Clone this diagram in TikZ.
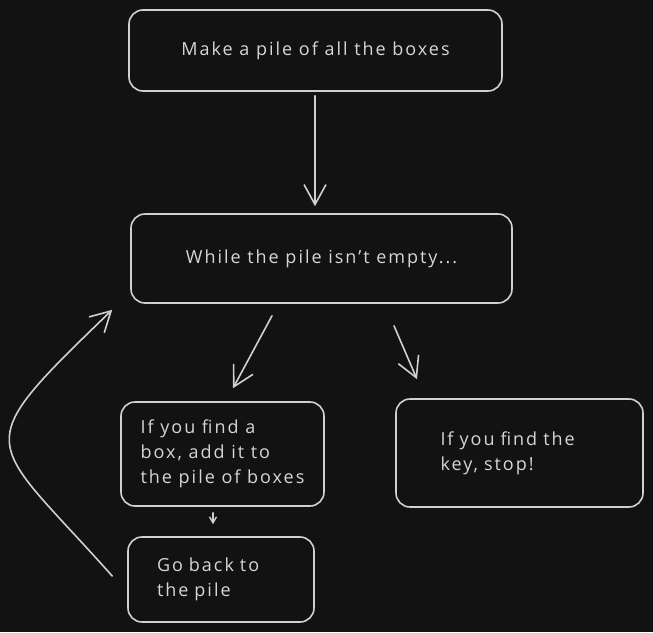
\documentclass[tikz,border=0pt]{standalone}
\usepackage{fontspec}
\setmainfont[LetterSpace=11]{Open Sans}
\usetikzlibrary{arrows.meta}
\definecolor{bggray}{HTML}{121212}
\definecolor{linegray}{HTML}{D0D0D0}
\definecolor{textgray}{HTML}{D6D6D6}

\begin{document}
\begin{tikzpicture}[x=1pt,y=-1pt,
  box/.style={draw=linegray,line width=1.6pt,rounded corners=14pt,text=textgray,
    font=\fontsize{18}{25}\selectfont,inner sep=0pt},
  arrowline/.style={draw=linegray,line width=1.6pt,line cap=round,
    -{Straight Barb[length=20pt,width=22pt,line width=1.6pt]}},
  smallarrow/.style={draw=linegray,line width=1.4pt,line cap=round,
    -{Straight Barb[length=6pt,width=7pt,line width=1.4pt]}}]
\fill[bggray] (0,0) rectangle (653,632);
\useasboundingbox (0,0) rectangle (653,632);
% boxes
\node[box,minimum width=373pt,minimum height=81pt] (pile) at (315.5,50.5) {Make a pile of all the boxes};
\node[box,minimum width=381pt,minimum height=89pt] (loop) at (321.5,258.5) {While the pile isn't empty...};
\node[box,minimum width=203pt,minimum height=104pt,align=left] (addbox) at (222.5,454) {If you find a\\box, add it to\\the pile of boxes};
\node[box,minimum width=247pt,minimum height=108pt,text width=158pt,align=left] (findkey) at (519.5,453) {If you find the\\key, stop!};
\node[box,minimum width=186pt,minimum height=85pt,text width=128pt,align=left] (goback) at (221,579.5) {Go back to\\the pile};
% arrows
\draw[arrowline] ([shift={(-0.5,4)}]pile.south) -- ([shift={(-6.5,-7)}]loop.north);
\draw[arrowline] ([shift={(-49.5,12)}]loop.south) -- ([shift={(10.5,-13)}]addbox.north);
\draw[arrowline] ([shift={(72.5,22)}]loop.south) -- ([shift={(-102.5,-19)}]findkey.north);
\draw[smallarrow] ([shift={(-9.5,6)}]addbox.south) -- ([shift={(-8,-12)}]goback.north);
\draw[arrowline] ([shift={(-15,-3.5)}]goback.west) .. controls (-14,434) and (-35,452) .. ([shift={(-18,6)}]loop.south west);
\end{tikzpicture}
\end{document}
